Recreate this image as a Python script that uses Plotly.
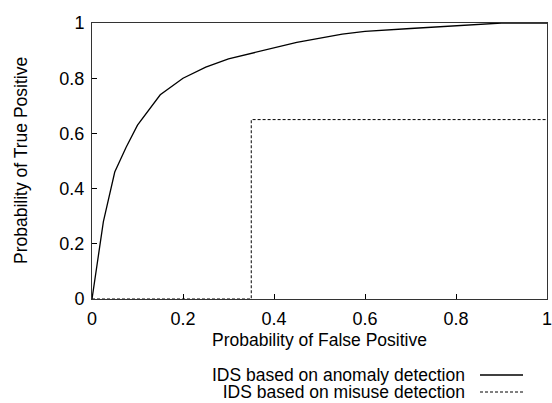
import plotly.graph_objects as go

anomaly_fp = [0, 0.025, 0.05, 0.075, 0.1, 0.15, 0.2, 0.25, 0.3, 0.35, 0.45, 0.55, 0.6, 0.7, 0.8, 0.9, 1.0]
anomaly_tp = [0, 0.28, 0.46, 0.55, 0.63, 0.74, 0.80, 0.84, 0.87, 0.89, 0.93, 0.96, 0.97, 0.98, 0.99, 1.0, 1.0]
misuse_fp = [0, 0.35, 0.35, 1.0]
misuse_tp = [0, 0, 0.65, 0.65]
tick_vals = [0, 0.2, 0.4, 0.6, 0.8, 1]
tick_text = ["0", "0.2", "0.4", "0.6", "0.8", "1"]
legend_names = ["IDS based on anomaly detection", "IDS based on misuse detection"]
x_title = "Probability of False Positive"
y_title = "Probability of True Positive"

FONT = "Liberation Sans, Arial, Helvetica, sans-serif"
W, H = 552, 403
L, R, T, B = 92, 5, 23, 104

def px_x(px):
    return (px - L) / (W - L - R)

def px_y(py):
    return (H - B - py) / (H - T - B)

fig = go.Figure()
fig.add_trace(go.Scatter(x=anomaly_fp, y=anomaly_tp, mode="lines",
                         line=dict(color="black", width=1.3), name=legend_names[0],
                         showlegend=False))
fig.add_trace(go.Scatter(x=misuse_fp, y=misuse_tp, mode="lines",
                         line=dict(color="black", width=1, dash="3px,2px"), name=legend_names[1],
                         showlegend=False))

axis_common = dict(range=[0, 1], tickvals=tick_vals, ticktext=tick_text,
                   ticks="inside", ticklen=5, tickcolor="black", tickwidth=1,
                   showgrid=False, zeroline=False, showline=True, linecolor="#333",
                   linewidth=1, mirror=True, automargin=False,
                   ticklabeloverflow="allow",
                   tickfont=dict(family=FONT, size=18, color="black"))

fig.update_xaxes(**axis_common, ticklabelstandoff=3)
fig.update_yaxes(**axis_common, ticklabelstandoff=3)

# axis titles
fig.add_annotation(x=px_x((L + W - R) / 2), y=px_y(340), xref="paper", yref="paper",
                   text=x_title, showarrow=False, xanchor="center", yanchor="middle",
                   font=dict(family=FONT, size=17.5, color="black"))
fig.add_annotation(x=px_x(21), y=px_y((T + H - B) / 2), xref="paper", yref="paper",
                   text=y_title, showarrow=False, xanchor="center", yanchor="middle",
                   textangle=-90, font=dict(family=FONT, size=17.5, color="black"))

# legend: right-aligned text block (two lines) with line samples on the right
legend_y = [375, 392]
legend_text = "<br>".join(
    f'<span style="font-size:17.5px">{n}</span>' for n in legend_names)
fig.add_annotation(x=px_x(466), y=px_y(sum(legend_y) / 2), xref="paper", yref="paper",
                   text=legend_text, showarrow=False, xanchor="right", yanchor="middle",
                   align="right", borderpad=0,
                   font=dict(family=FONT, size=13, color="black"))
for yp, dash, w in zip(legend_y, ["solid", "3px,2px"], [1.3, 1]):
    fig.add_shape(type="line", xref="paper", yref="paper",
                  x0=px_x(480), x1=px_x(523), y0=px_y(yp), y1=px_y(yp),
                  line=dict(color="black", width=w, dash=dash))

fig.update_layout(
    width=W, height=H,
    margin=dict(l=L, r=R, t=T, b=B),
    paper_bgcolor="white", plot_bgcolor="white",
    showlegend=False,
)

fig.write_html("out.html", config={"displayModeBar": False},
               post_script="document.body.style.margin='0';document.body.style.padding='0';"
                           "document.body.style.overflow='hidden';")
